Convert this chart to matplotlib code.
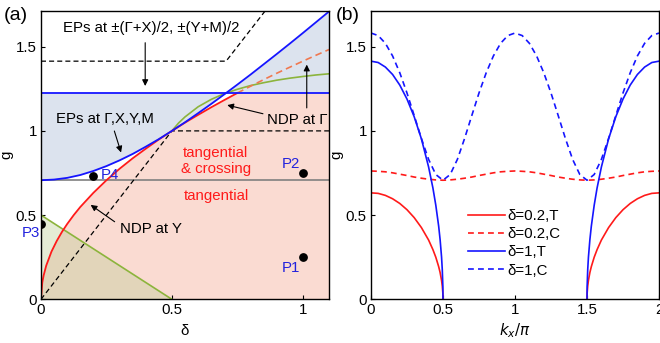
import numpy as np
import matplotlib.pyplot as plt

plt.rcParams['font.family'] = ['Liberation Sans', 'DejaVu Sans']
plt.rcParams['font.size'] = 10.8

# ---------------- panel (a) data ----------------
# blue boundary curve (EPs at Gamma, X, Y, M)
d_blue = [0, 0.05, 0.1, 0.15, 0.2, 0.25, 0.3, 0.35, 0.4, 0.45, 0.5, 0.55, 0.6,
          0.65, 0.7, 0.75, 0.8, 0.85, 0.9, 0.95, 1.0, 1.05, 1.1]
g_blue = [0.707, 0.711, 0.721, 0.738, 0.762, 0.791, 0.825, 0.863, 0.906, 0.951,
          1.0, 1.051, 1.105, 1.160, 1.217, 1.275, 1.334, 1.395, 1.456, 1.518,
          1.581, 1.645, 1.709]
g_blue_level = 1.225  # horizontal blue line

# red curve (NDP), solid part then dashed part
d_red = [0, 0.005, 0.01, 0.02, 0.04, 0.06, 0.08, 0.1, 0.125, 0.15, 0.2, 0.25,
         0.3, 0.35, 0.4, 0.45, 0.5, 0.55, 0.6, 0.65, 0.7, 0.75]
g_red = [0, 0.1, 0.141, 0.2, 0.283, 0.346, 0.4, 0.447, 0.5, 0.548, 0.632,
         0.707, 0.775, 0.837, 0.894, 0.949, 1.0, 1.049, 1.095, 1.140, 1.183,
         1.225]
d_red_dash = [0.75, 0.8, 0.85, 0.9, 0.95, 1.0, 1.05, 1.1]
g_red_dash = [1.225, 1.265, 1.304, 1.342, 1.378, 1.414, 1.449, 1.483]

# green curve and green line
d_green = [0.5, 0.525, 0.55, 0.6, 0.65, 0.7, 0.75, 0.8, 0.85, 0.9, 0.95, 1.0,
           1.05, 1.1]
g_green = [1.0, 1.046, 1.083, 1.143, 1.187, 1.221, 1.247, 1.269, 1.286, 1.301,
           1.313, 1.323, 1.332, 1.339]
d_gline = [0, 0.5]
g_gline = [0.5, 0]

# black dashed lines
d_dash_low = [0, 0.5, 1.1]
g_dash_low = [0, 1.0, 1.0]
d_dash_up = [0, 0.707, 0.855]
g_dash_up = [1.414, 1.414, 1.71]

g_gray = 0.707

# marked points
pts_d = [1.0, 1.0, 0.0, 0.2]
pts_g = [0.25, 0.75, 0.45, 0.735]
pts_lab = ['P1', 'P2', 'P3', 'P4']

# ---------------- panel (b) data ----------------
kx_T = [0, 0.05, 0.1, 0.15, 0.2, 0.25, 0.3, 0.35, 0.4, 0.43, 0.45, 0.47, 0.48,
        0.49, 0.495, 0.499, 0.5]
kx_T2 = [1.5, 1.501, 1.505, 1.51, 1.52, 1.53, 1.55, 1.57, 1.6, 1.65, 1.7, 1.75,
         1.8, 1.85, 1.9, 1.95, 2.0]
g_T1 = [1.414, 1.406, 1.379, 1.335, 1.272, 1.189, 1.084, 0.953, 0.786, 0.661,
        0.559, 0.434, 0.354, 0.251, 0.177, 0.079, 0]
g_T1_2 = [0, 0.079, 0.177, 0.251, 0.354, 0.434, 0.559, 0.661, 0.786, 0.953,
          1.084, 1.189, 1.272, 1.335, 1.379, 1.406, 1.414]
g_T02 = [0.632, 0.629, 0.617, 0.597, 0.569, 0.532, 0.485, 0.426, 0.352, 0.295,
         0.250, 0.194, 0.159, 0.112, 0.079, 0.036, 0]
g_T02_2 = [0, 0.036, 0.079, 0.112, 0.159, 0.194, 0.250, 0.295, 0.352, 0.426,
           0.485, 0.532, 0.569, 0.597, 0.617, 0.629, 0.632]

kx_C = np.linspace(0, 2, 41)
g_C1 = [1.581, 1.566, 1.520, 1.445, 1.345, 1.225, 1.091, 0.955, 0.831, 0.741,
        0.707, 0.741, 0.831, 0.955, 1.091, 1.225, 1.345, 1.445, 1.520, 1.566,
        1.581, 1.566, 1.520, 1.445, 1.345, 1.225, 1.091, 0.955, 0.831, 0.741,
        0.707, 0.741, 0.831, 0.955, 1.091, 1.225, 1.345, 1.445, 1.520, 1.566,
        1.581]
g_C02 = [0.762, 0.760, 0.757, 0.751, 0.743, 0.735, 0.726, 0.719, 0.713, 0.709,
         0.707, 0.709, 0.713, 0.719, 0.726, 0.735, 0.743, 0.751, 0.757, 0.760,
         0.762, 0.760, 0.757, 0.751, 0.743, 0.735, 0.726, 0.719, 0.713, 0.709,
         0.707, 0.709, 0.713, 0.719, 0.726, 0.735, 0.743, 0.751, 0.757, 0.760,
         0.762]

RED = '#ff1a1a'
BLUE = '#1515ff'
GREEN = '#8cb43c'
PBLUE = '#2222dd'

fig = plt.figure(figsize=(6.6, 3.43), dpi=100)
ax1 = fig.add_axes([0.0621, 0.1274, 0.4364, 0.8396])
ax2 = fig.add_axes([0.5621, 0.1274, 0.4364, 0.8396])

# ---- panel (a) ----
d_all = np.array(d_red + d_red_dash[1:])
g_all = np.array(g_red + g_red_dash[1:])
ax1.fill_between(d_all, 0, np.minimum(g_all, g_blue_level), color='#fadbd2', lw=0)
ax1.fill_between(d_blue, g_blue, g_blue_level, color='#dce3ee', lw=0)
ax1.fill_between(d_gline, 0, g_gline, color='#bdcd93', alpha=0.38, lw=0)

ax1.axhline(g_gray, color='#808080', lw=1.2)
ax1.plot(d_dash_low, g_dash_low, color='k', ls=(0, (4, 2.5)), lw=0.9)
ax1.plot(d_dash_up, g_dash_up, color='k', ls=(0, (4, 2.5)), lw=0.9)
ax1.plot(d_gline, g_gline, color=GREEN, lw=1.2)
ax1.plot(d_green, g_green, color=GREEN, lw=1.2)
ax1.plot(d_red, g_red, color=RED, lw=1.3)
ax1.plot(d_red_dash, g_red_dash, color='#f07850', ls=(0, (4, 2.5)), lw=1.2)
ax1.axhline(g_blue_level, color=BLUE, lw=1.3)
ax1.plot(d_blue, g_blue, color=BLUE, lw=1.3)

ax1.scatter(pts_d, pts_g, s=28, color='k', zorder=5)
ax1.text(0.955, 0.185, pts_lab[0], color=PBLUE, ha='center', va='center')
ax1.text(0.955, 0.805, pts_lab[1], color=PBLUE, ha='center', va='center')
ax1.text(-0.04, 0.393, pts_lab[2], color=PBLUE, ha='center', va='center')
ax1.text(0.262, 0.74, pts_lab[3], color=PBLUE, ha='center', va='center')

ax1.text(0.42, 1.61, 'EPs at \u00b1(\u0393+X)/2, \u00b1(Y+M)/2', ha='center', va='center')
ax1.text(0.245, 1.07, 'EPs at \u0393,X,Y,M', ha='center', va='center')
ax1.text(0.977, 1.065, 'NDP at \u0393', ha='center', va='center')
ax1.text(0.421, 0.417, 'NDP at Y', ha='center', va='center')
ax1.text(0.667, 0.82, 'tangential\n& crossing', color=RED, ha='center', va='center',
         linespacing=1.15)
ax1.text(0.669, 0.613, 'tangential', color=RED, ha='center', va='center')

arrow = dict(arrowstyle='-|>', color='k', lw=0.8, mutation_scale=9)
ax1.annotate('', xy=(0.398, 1.25), xytext=(0.398, 1.54), arrowprops=arrow)
ax1.annotate('', xy=(0.309, 0.856), xytext=(0.277, 1.015), arrowprops=arrow)
ax1.annotate('', xy=(0.701, 1.157), xytext=(0.858, 1.098), arrowprops=arrow)
ax1.annotate('', xy=(1.015, 1.41), xytext=(1.015, 1.12), arrowprops=arrow)
ax1.annotate('', xy=(0.181, 0.57), xytext=(0.29, 0.451), arrowprops=arrow)

ax1.set_xlim(0, 1.1)
ax1.set_ylim(0, 1.71)
ax1.set_xticks([0, 0.5, 1])
ax1.set_xticklabels(['0', '0.5', '1'])
ax1.set_yticks([0, 0.5, 1, 1.5])
ax1.set_yticklabels(['0', '0.5', '1', '1.5'])
ax1.set_xlabel('\u03b4', labelpad=5)
ax1.set_ylabel('g', labelpad=2)
fig.text(0.005, 0.955, '(a)', fontsize=14, va='center')

# ---- panel (b) ----
ax2.plot(kx_T, g_T02, color=RED, lw=1.2, label='\u03b4=0.2,T')
ax2.plot(kx_T2, g_T02_2, color=RED, lw=1.2)
ax2.plot(kx_C, g_C02, color=RED, ls=(0, (3.5, 2.5)), lw=1.2, label='\u03b4=0.2,C')
ax2.plot(kx_T, g_T1, color=BLUE, lw=1.2, label='\u03b4=1,T')
ax2.plot(kx_T2, g_T1_2, color=BLUE, lw=1.2)
ax2.plot(kx_C, g_C1, color=BLUE, ls=(0, (3.5, 2.5)), lw=1.2, label='\u03b4=1,C')

ax2.set_xlim(0, 2)
ax2.set_ylim(0, 1.71)
ax2.set_xticks([0, 0.5, 1, 1.5, 2])
ax2.set_xticklabels(['0', '0.5', '1', '1.5', '2'])
ax2.set_yticks([0, 0.5, 1, 1.5])
ax2.set_yticklabels(['0', '0.5', '1', '1.5'])
ax2.set_xlabel('$k_x/\\pi$', labelpad=3)
ax2.set_ylabel('g', labelpad=2)
ax2.legend(loc='upper left', bbox_to_anchor=(0.3, 0.35), frameon=False,
           handlelength=2.5, handletextpad=0.1, labelspacing=0.28,
           borderpad=0.2)
fig.text(0.508, 0.955, '(b)', fontsize=14, va='center')

for ax in (ax1, ax2):
    ax.tick_params(direction='in', length=3, width=0.8, labelsize=10.8, pad=3)
    for s in ax.spines.values():
        s.set_linewidth(1.0)

fig.savefig('out.png', dpi=100)
